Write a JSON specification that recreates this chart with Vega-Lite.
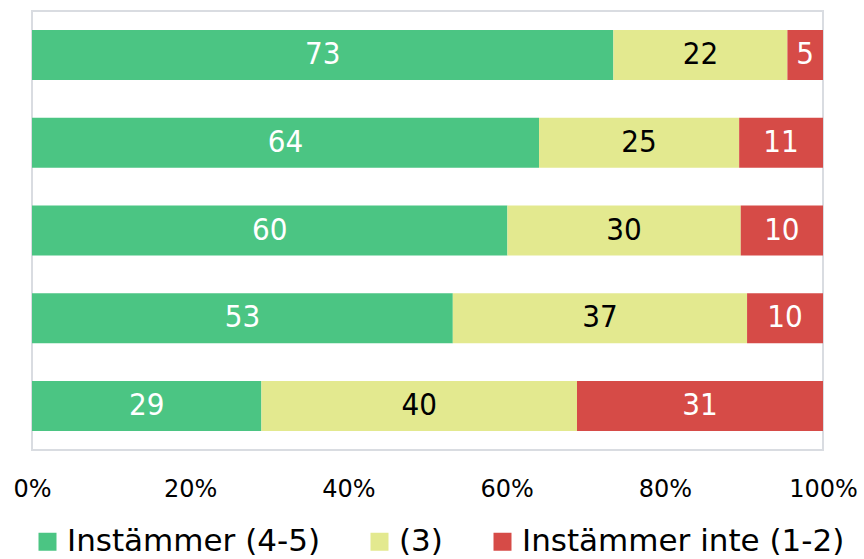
{
  "$schema": "https://vega.github.io/schema/vega-lite/v6.json",
  "width": 791,
  "height": 439,
  "autosize": {"type": "none"},
  "padding": {"left": 32, "top": 11, "right": 41, "bottom": 109},
  "background": "white",
  "config": {
    "view": {"stroke": "#D9DCE1", "strokeWidth": 2},
    "font": "DejaVu Sans"
  },
  "data": {
    "values": [
      {"q": "1", "cat": "Instämmer (4-5)", "o": 1, "v": 73.5, "lab": 73},
      {"q": "1", "cat": "(3)", "o": 2, "v": 22.0, "lab": 22},
      {"q": "1", "cat": "Instämmer inte (1-2)", "o": 3, "v": 4.5, "lab": 5},
      {"q": "2", "cat": "Instämmer (4-5)", "o": 1, "v": 64.1, "lab": 64},
      {"q": "2", "cat": "(3)", "o": 2, "v": 25.3, "lab": 25},
      {"q": "2", "cat": "Instämmer inte (1-2)", "o": 3, "v": 10.6, "lab": 11},
      {"q": "3", "cat": "Instämmer (4-5)", "o": 1, "v": 60.1, "lab": 60},
      {"q": "3", "cat": "(3)", "o": 2, "v": 29.5, "lab": 30},
      {"q": "3", "cat": "Instämmer inte (1-2)", "o": 3, "v": 10.4, "lab": 10},
      {"q": "4", "cat": "Instämmer (4-5)", "o": 1, "v": 53.2, "lab": 53},
      {"q": "4", "cat": "(3)", "o": 2, "v": 37.2, "lab": 37},
      {"q": "4", "cat": "Instämmer inte (1-2)", "o": 3, "v": 9.6, "lab": 10},
      {"q": "5", "cat": "Instämmer (4-5)", "o": 1, "v": 29.0, "lab": 29},
      {"q": "5", "cat": "(3)", "o": 2, "v": 39.9, "lab": 40},
      {"q": "5", "cat": "Instämmer inte (1-2)", "o": 3, "v": 31.1, "lab": 31}
    ]
  },
  "transform": [
    {"stack": "v", "groupby": ["q"], "sort": [{"field": "o", "order": "ascending"}], "as": ["v0", "v1"]},
    {"calculate": "(datum.v0 + datum.v1) / 2", "as": "vm"}
  ],
  "encoding": {
    "y": {
      "field": "q",
      "type": "nominal",
      "sort": "ascending",
      "axis": null,
      "scale": {"paddingInner": 0.43, "paddingOuter": 0.215}
    }
  },
  "layer": [
    {
      "mark": {"type": "bar", "strokeWidth": 0},
      "encoding": {
        "x": {
          "field": "v0",
          "type": "quantitative",
          "scale": {"domain": [0, 100], "nice": false},
          "axis": {
            "title": null,
            "values": [0, 20, 40, 60, 80, 100],
            "labelExpr": "datum.value + '%'",
            "domain": false,
            "ticks": false,
            "grid": false,
            "labelFontSize": 24,
            "labelColor": "black",
            "labelPadding": 27,
            "labelFlush": false,
            "labelOverlap": false,
            "labelFont": "DejaVu Sans"
          }
        },
        "x2": {"field": "v1"},
        "color": {
          "field": "cat",
          "type": "nominal",
          "sort": ["Instämmer (4-5)", "(3)", "Instämmer inte (1-2)"],
          "scale": {
            "domain": ["Instämmer (4-5)", "(3)", "Instämmer inte (1-2)"],
            "range": ["#4BC583", "#E3E98F", "#D64B47"]
          },
          "legend": {
            "title": null,
            "orient": "none",
            "direction": "horizontal",
            "legendX": 0,
            "legendY": 515,
            "symbolType": "square",
            "symbolSize": 324,
            "symbolStrokeWidth": 0,
            "labelFontSize": 31,
            "labelFont": "DejaVu Sans",
            "labelColor": "black",
            "labelOffset": 4,
            "columnPadding": 44,
            "labelLimit": 500
          }
        }
      }
    },
    {
      "mark": {"type": "text", "fontSize": 31, "font": "DejaVu Sans Condensed", "baseline": "middle", "align": "center"},
      "encoding": {
        "x": {"field": "vm", "type": "quantitative"},
        "text": {"field": "lab", "type": "quantitative"},
        "color": {
          "condition": {"test": "datum.cat == '(3)'", "value": "black"},
          "value": "white"
        }
      }
    }
  ]
}
